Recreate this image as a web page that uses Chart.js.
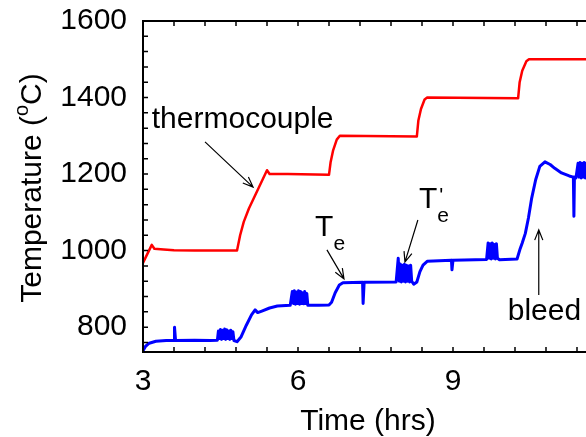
<!DOCTYPE html>
<html>
<head>
<meta charset="utf-8">
<script src="https://cdn.jsdelivr.net/npm/chart.js@4.4.1/dist/chart.umd.min.js"></script>
<style>
  html, body { margin: 0; padding: 0; background: #fff; overflow: hidden; }
  #wrap { width: 620px; height: 437px; }
</style>
</head>
<body>
<div id="wrap"><canvas id="myChart" width="620" height="437"></canvas></div>
<script>
// thermocouple (red)
const redTime = [3.00, 3.08, 3.17, 3.22, 3.40, 3.60, 4.00, 4.82, 4.88, 4.95, 5.05, 5.40, 5.45, 5.80,
  6.60, 6.63, 6.68, 6.75, 6.81, 8.30, 8.33, 8.38, 8.45, 8.50, 10.26, 10.29, 10.34, 10.42, 10.47, 12.00];
const redTemp = [968, 990, 1015, 1005, 1003, 1001, 1000, 1000, 1040, 1075, 1110, 1210, 1200, 1200,
  1198, 1230, 1262, 1290, 1300, 1298, 1340, 1370, 1395, 1400, 1398, 1440, 1470, 1495, 1500, 1500];

// bleed (blue)
const blueTime = [3.00, 3.05, 3.12, 3.25, 3.45, 3.60, 3.61, 3.63, 4.00, 4.30, 4.44,
  4.46, 4.48, 4.50, 4.52, 4.54, 4.56, 4.58, 4.60, 4.62, 4.64, 4.66, 4.68, 4.70, 4.72, 4.74,
  4.76, 4.82, 4.90, 5.00, 5.10, 5.17, 5.22, 5.30, 5.45, 5.60, 5.85,
  5.89, 5.91, 5.93, 5.95, 5.97, 5.99, 6.01, 6.03, 6.05, 6.07, 6.09, 6.11, 6.13, 6.15, 6.17,
  6.19, 6.40, 6.60, 6.65, 6.72, 6.80, 6.87, 7.25, 7.26, 7.28, 7.90,
  7.94, 7.96, 7.98, 8.00, 8.02, 8.04, 8.06, 8.08, 8.10, 8.12, 8.14, 8.16, 8.18, 8.20,
  8.24, 8.30, 8.36, 8.42, 8.50, 8.97, 8.98, 9.00, 9.65,
  9.68, 9.70, 9.72, 9.74, 9.76, 9.78, 9.80, 9.82, 9.84, 9.86,
  9.90, 10.24, 10.30, 10.34, 10.40, 10.46, 10.52, 10.60, 10.68, 10.78, 10.88, 10.97, 11.10, 11.25,
  11.33, 11.34, 11.35, 11.38,
  11.42, 11.44, 11.46, 11.48, 11.50, 11.52, 11.54, 11.56, 11.58, 11.60, 11.62, 11.64, 11.66, 11.68, 11.70];
const blueTemp = [738, 750, 758, 763, 765, 765, 800, 765, 766, 765, 766,
  790, 770, 794, 768, 792, 770, 795, 768, 793, 770, 790, 768, 792, 770, 788,
  765, 762, 775, 805, 832, 845, 838, 842, 850, 855, 857,
  893, 862, 895, 860, 892, 862, 895, 860, 893, 862, 890, 861, 893, 862, 888,
  857, 857, 858, 865, 890, 910, 916, 917, 862, 917, 918,
  980, 920, 965, 918, 962, 920, 964, 918, 962, 920, 960, 918, 962, 920,
  912, 918, 945, 962, 972, 975, 950, 975, 977,
  1020, 980, 1018, 978, 1020, 980, 1016, 978, 1018, 980,
  976, 978, 1005, 1020, 1045, 1085, 1135, 1185, 1220, 1232, 1225, 1215, 1203, 1195,
  1192, 1090, 1192, 1190,
  1228, 1192, 1230, 1190, 1228, 1192, 1230, 1190, 1228, 1192, 1230, 1195, 1228, 1192, 1230];

const xTicks = [3, 6, 9];
const yTicks = [800, 1000, 1200, 1400, 1600];
const xMinorStep = 0.6;
const yMinorStep = 40;

// annotation anchors in data units (time, temperature)
const notes = [
  { text: 'thermocouple', t: 3.17, T: 1320 },
  { text: 'T', sub: 'e', t: 6.33, T: 1038 },
  { text: 'T', sub: 'e', prime: true, t: 8.34, T: 1111 },
  { text: 'bleed', t: 10.06, T: 819 }
];
const arrows = [
  { from: [4.20, 1284], to: [5.13, 1166] },
  { from: [6.56, 1002], to: [6.89, 926] },
  { from: [8.32, 1080], to: [8.07, 970] },
  { from: [10.66, 884], to: [10.66, 1054] }
];

const FONT = '"Liberation Sans", Arial, Helvetica, sans-serif';

const ctx = document.querySelector('#myChart');

const framePlugin = {
  id: 'frame',
  afterDraw(chart) {
    const c = chart.ctx;
    const a = chart.chartArea;
    const xs = chart.scales.x;
    const ys = chart.scales.y;
    const W = chart.width;
    c.save();
    c.strokeStyle = '#000';
    c.lineWidth = 2;
    c.beginPath();
    c.moveTo(a.left, a.top);
    c.lineTo(a.left, a.bottom);
    c.moveTo(a.left - 1, a.bottom);
    c.lineTo(W, a.bottom);
    c.moveTo(a.left - 1, a.top);
    c.lineTo(W, a.top);
    c.stroke();

    // inward ticks
    c.lineWidth = 1.5;
    c.beginPath();
    for (let i = 0; ; i++) {
      const v = 3 + i * xMinorStep;
      if (v > 12.01) break;
      const px = xs.getPixelForValue(v);
      c.moveTo(px, a.bottom);
      c.lineTo(px, a.bottom - 5);
      c.moveTo(px, a.top);
      c.lineTo(px, a.top + 5);
    }
    for (let i = 0; ; i++) {
      const v = 1600 - i * yMinorStep;
      if (v < ys.min) break;
      const py = ys.getPixelForValue(v);
      c.moveTo(a.left, py);
      c.lineTo(a.left + 5, py);
    }
    c.stroke();

    // axis titles
    c.fillStyle = '#000';
    c.font = '30px ' + FONT;
    c.textBaseline = 'middle';
    c.textAlign = 'center';
    c.fillText('Time (hrs)', 368, 422);

    c.save();
    c.translate(30, 188);
    c.rotate(-Math.PI / 2);
    c.textAlign = 'left';
    c.textBaseline = 'alphabetic';
    const p1 = 'Temperature (';
    const supFont = '20px ' + FONT;
    c.font = '30px ' + FONT;
    const w1 = c.measureText(p1).width;
    c.font = supFont;
    const ws = c.measureText('o').width;
    c.font = '30px ' + FONT;
    const w2 = c.measureText('C)').width;
    const total = w1 + ws + w2;
    let x0 = -total / 2;
    c.fillText(p1, x0, 11);
    c.font = supFont;
    c.fillText('o', x0 + w1, -2);
    c.font = '30px ' + FONT;
    c.fillText('C)', x0 + w1 + ws, 11);
    c.restore();

    // annotations
    c.textAlign = 'left';
    c.textBaseline = 'alphabetic';
    notes.forEach(n => {
      const x = xs.getPixelForValue(n.t);
      const y = ys.getPixelForValue(n.T);
      c.font = '30px ' + FONT;
      c.fillText(n.text, x, y);
      if (n.sub) {
        const w = c.measureText(n.text).width;
        c.font = '21px ' + FONT;
        c.fillText(n.sub, x + w, y + 14);
        if (n.prime) {
          c.fillText('\'', x + w + 2, y - 6);
        }
      }
    });

    c.lineWidth = 1.2;
    c.strokeStyle = '#000';
    arrows.forEach(ar => {
      const x1 = xs.getPixelForValue(ar.from[0]);
      const y1 = ys.getPixelForValue(ar.from[1]);
      const x2 = xs.getPixelForValue(ar.to[0]);
      const y2 = ys.getPixelForValue(ar.to[1]);
      const ang = Math.atan2(y2 - y1, x2 - x1);
      const hl = 11, ha = 0.38;
      c.beginPath();
      c.moveTo(x1, y1);
      c.lineTo(x2, y2);
      c.moveTo(x2 - hl * Math.cos(ang - ha), y2 - hl * Math.sin(ang - ha));
      c.lineTo(x2, y2);
      c.lineTo(x2 - hl * Math.cos(ang + ha), y2 - hl * Math.sin(ang + ha));
      c.stroke();
    });
    c.restore();
  }
};

const chart = new Chart(ctx, {
  type: 'line',
  data: {
    datasets: [
      {
        label: 'thermocouple',
        data: redTime.map((t, i) => ({ x: t, y: redTemp[i] })),
        borderColor: '#ff0000',
        borderWidth: 2.5,
        borderJoinStyle: 'round',
        pointRadius: 0,
        tension: 0
      },
      {
        label: 'bleed',
        data: blueTime.map((t, i) => ({ x: t, y: blueTemp[i] })),
        borderColor: '#0000ff',
        borderWidth: 3,
        borderJoinStyle: 'round',
        pointRadius: 0,
        tension: 0
      }
    ]
  },
  options: {
    responsive: false,
    animation: false,
    devicePixelRatio: 1,
    layout: { padding: { top: 21, right: 12, left: 0, bottom: 0 } },
    plugins: { legend: { display: false }, tooltip: { enabled: false } },
    scales: {
      x: {
        type: 'linear',
        min: 3,
        max: 12,
        grid: { display: false, drawTicks: false },
        border: { display: false },
        afterBuildTicks: s => { s.ticks = xTicks.map(v => ({ value: v })); },
        afterFit: s => { s.height = 85; s.paddingLeft = 0; s.paddingRight = 0; },
        ticks: {
          autoSkip: false, maxRotation: 0, padding: 12, color: '#000',
          font: { family: FONT, size: 30 },
          callback: v => String(v)
        }
      },
      y: {
        min: 735,
        max: 1600,
        grid: { display: false, drawTicks: false },
        border: { display: false },
        afterBuildTicks: s => { s.ticks = yTicks.map(v => ({ value: v })); },
        afterFit: s => { s.width = 143; s.paddingTop = 0; s.paddingBottom = 0; },
        ticks: {
          autoSkip: false, padding: 16, color: '#000',
          font: { family: FONT, size: 30 },
          callback: v => String(v)
        }
      }
    }
  },
  plugins: [framePlugin]
});
</script>
</body>
</html>
